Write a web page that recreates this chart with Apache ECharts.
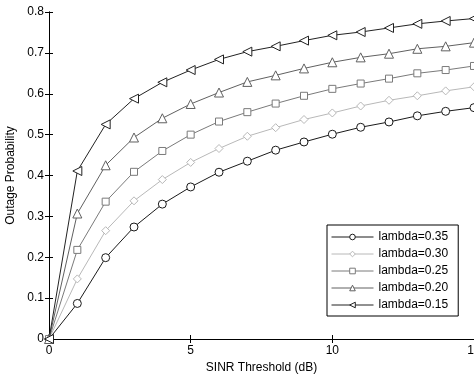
<!DOCTYPE html>
<html>
<head>
<meta charset="utf-8">
<script src="https://cdn.jsdelivr.net/npm/echarts@6/dist/echarts.min.js"></script>
<style>html,body{margin:0;padding:0;background:#fff;}#c{width:474px;height:378px;}</style>
</head>
<body>
<div id="c"></div>
<script>
var xValues = [0,1,2,3,4,5,6,7,8,9,10,11,12,13,14,15];
var seriesNames = ['lambda=0.35','lambda=0.30','lambda=0.25','lambda=0.20','lambda=0.15'];
var lambda035 = [0,0.087,0.199,0.274,0.330,0.372,0.408,0.435,0.462,0.482,0.501,0.518,0.531,0.546,0.557,0.566];
var lambda030 = [0,0.147,0.265,0.338,0.390,0.432,0.466,0.496,0.517,0.537,0.553,0.570,0.584,0.595,0.607,0.617];
var lambda025 = [0,0.218,0.336,0.409,0.460,0.500,0.532,0.555,0.576,0.595,0.612,0.625,0.637,0.650,0.658,0.668];
var lambda020 = [0,0.307,0.425,0.493,0.540,0.575,0.603,0.629,0.645,0.662,0.677,0.689,0.698,0.710,0.716,0.725];
var lambda015 = [0,0.411,0.525,0.588,0.628,0.658,0.684,0.703,0.716,0.730,0.743,0.751,0.761,0.771,0.778,0.784];
var xTicks = [0,5,10,15];
var yTicks = [0,0.1,0.2,0.3,0.4,0.5,0.6,0.7,0.8];

var allData = [lambda035,lambda030,lambda025,lambda020,lambda015];
var colors = ['#1a1a1a','#b8b8b8','#7a7a7a','#606060','#222222'];
var symbols = ['circle','diamond','rect','triangle','path://M0,5L10,0L10,10Z'];
var sizes = [8,8,7,9,9];

function pairs(arr){ return xValues.map(function(x,i){ return [x, arr[i]]; }); }

var font = 'Liberation Sans, Arial, sans-serif';
var chart = echarts.init(document.getElementById('c'), null, {renderer:'canvas'});

var series = allData.map(function(d,i){
  return {
    name: seriesNames[i], type:'line', data: pairs(d),
    xAxisIndex:0, yAxisIndex:0,
    symbol: symbols[i], symbolSize: sizes[i], symbolKeepAspect:true,
    showAllSymbol:true,
    lineStyle:{color:colors[i], width:1},
    itemStyle:{color:'#fff', borderColor:colors[i], borderWidth:1},
    emphasis:{disabled:true},
    animation:false, z: 2
  };
});

var axisLineStyle = {lineStyle:{color:'#000', width:1}};
var tickStyle = {show:true, inside:true, length:4, lineStyle:{color:'#000'}};

chart.setOption({
  backgroundColor:'#fff',
  animation:false,
  grid:{left:49, right:0, top:12, bottom:39, containLabel:false, outerBoundsMode:'none'},
  legend:{
    data: seriesNames,
    orient:'vertical', left:327, top:225,
    backgroundColor:'#fff',
    borderColor:'#000', borderWidth:1, borderRadius:0,
    padding:[6,10,5,4],
    itemWidth:42, itemHeight:7, itemGap:5,
    lineStyle:{width:1},
    itemStyle:{borderWidth:1},
    textStyle:{fontFamily:font, fontSize:12, color:'#000'},
    selectedMode:false
  },
  xAxis:[{
    type:'value', min:0, max:15, interval:5, position:'bottom',
    axisLine:axisLineStyle, axisTick:tickStyle, splitLine:{show:false},
    axisLabel:{fontFamily:font, fontSize:12, color:'#000', margin:6, showMaxLabel:true, showMinLabel:true, hideOverlap:false},
    name:'SINR Threshold (dB)', nameLocation:'middle', nameGap:20,
    nameTextStyle:{fontFamily:font, fontSize:12, color:'#000'}
  },{
    type:'value', min:0, max:15, interval:5, position:'top',
    axisLine:axisLineStyle, axisTick:tickStyle, splitLine:{show:false},
    axisLabel:{show:false}
  }],
  yAxis:[{
    type:'value', min:0, max:0.8, interval:0.1, position:'left',
    axisLine:{show:true, lineStyle:{color:'#000', width:1}}, axisTick:tickStyle, splitLine:{show:false},
    axisLabel:{fontFamily:font, fontSize:12, color:'#000', margin:5,
      formatter:function(v){ return (Math.round(v*10)/10).toString(); }},
    name:'Outage Probability', nameLocation:'middle', nameGap:27,
    nameTextStyle:{fontFamily:font, fontSize:12, color:'#000'}
  },{
    type:'value', min:0, max:0.8, interval:0.1, position:'right',
    axisLine:{show:true, lineStyle:{color:'#000', width:1}}, axisTick:tickStyle, splitLine:{show:false},
    axisLabel:{show:false}
  }],
  series: series
});
</script>
</body>
</html>
